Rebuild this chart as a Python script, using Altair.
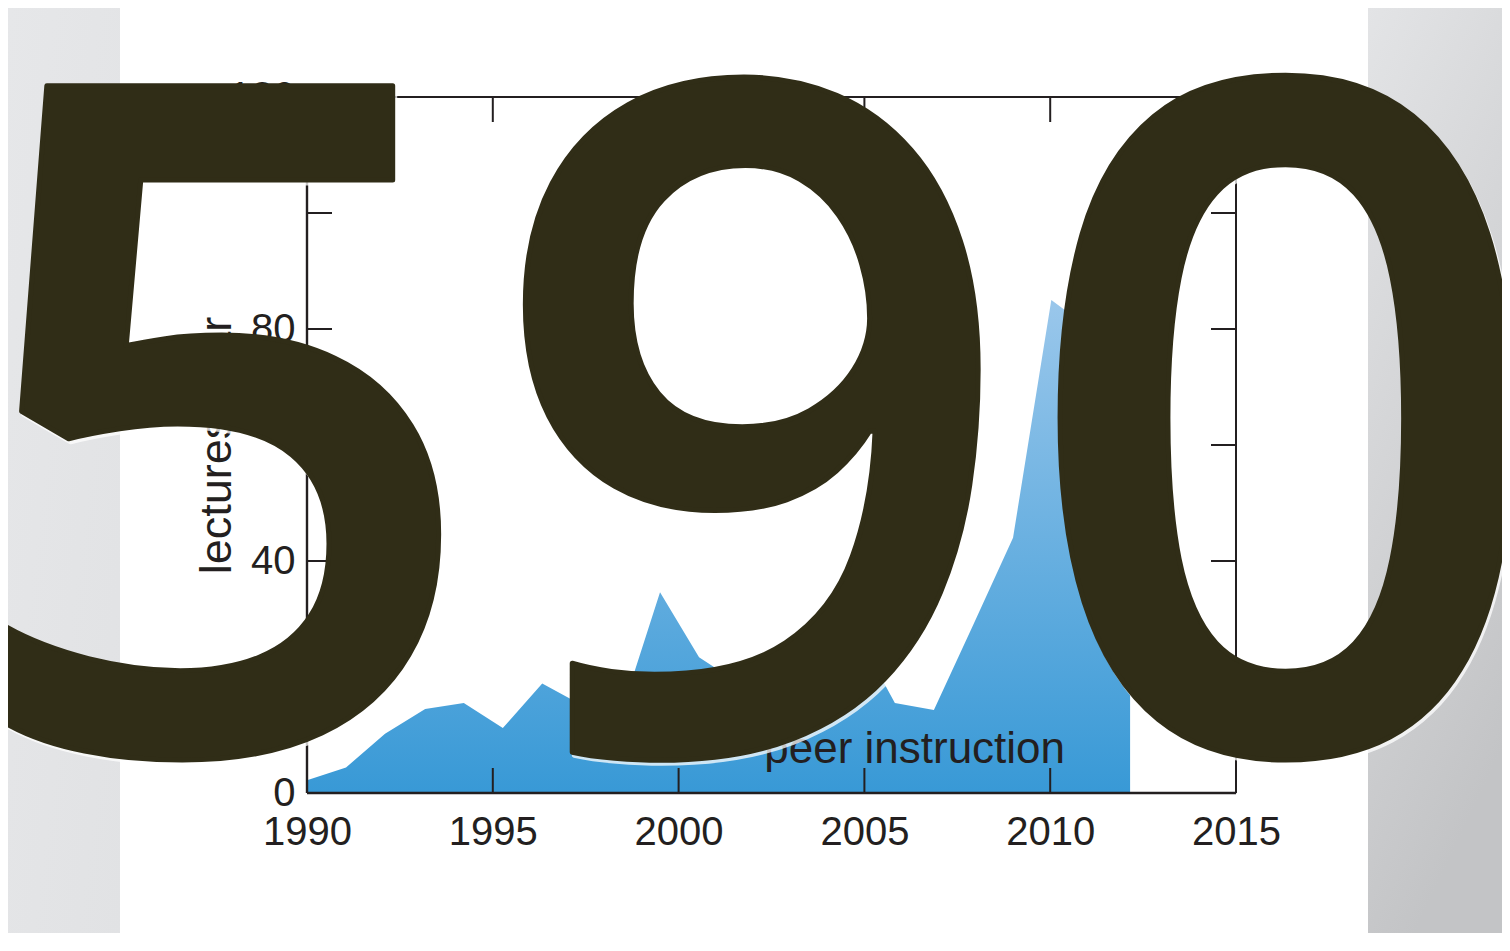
import altair as alt
import pandas as pd

# ---- data ----
years = [1990.0, 1991.05, 1992.1, 1993.18, 1994.22, 1995.27, 1996.33, 1997.38,
         1998.44, 1999.5, 2000.55, 2001.6, 2002.66, 2003.71, 2004.77, 2005.82,
         2006.87, 2007.93, 2009.0, 2010.03, 2011.08, 2012.15]
lectures = [2.2, 4.4, 10.2, 14.5, 15.5, 11.2, 18.9, 15.2,
            13.5, 34.6, 23.4, 19.0, 22.0, 25.0, 27.9, 15.5,
            14.3, 29.0, 44.0, 85.0, 80.0, 62.0]
x_ticks = [1990, 1995, 2000, 2005, 2010, 2015]
y_ticks = [0, 20, 40, 60, 80, 100, 120]
y_labels = [0, 40, 80, 120]
series_label = "peer instruction"
y_title = "lectures/year"
big_number = "590"

df = pd.DataFrame({"year": years, "lectures": lectures})
xt = pd.DataFrame({"year": x_ticks})
yt = pd.DataFrame({"lectures": y_ticks})
one = pd.DataFrame({"k": [0]})

INK = "#231f20"
FONT = "Liberation Sans"
BIG = "#302d17"

x_scale = alt.Scale(domain=[1990, 2015], nice=False, zero=False)
y_scale = alt.Scale(domain=[0, 120], nice=False, zero=False)

left_grad = alt.Gradient(
    gradient="linear", x1=0, y1=0, x2=1, y2=1,
    stops=[alt.GradientStop(color="#e6e7e9", offset=0),
           alt.GradientStop(color="#e1e2e4", offset=1)])
right_grad = alt.Gradient(
    gradient="linear", x1=0, y1=0, x2=0.3, y2=1,
    stops=[alt.GradientStop(color="#e3e4e6", offset=0),
           alt.GradientStop(color="#d3d4d6", offset=0.5),
           alt.GradientStop(color="#c3c4c6", offset=1)])
blue_grad = alt.Gradient(
    gradient="linear", x1=0, y1=0, x2=0, y2=1,
    stops=[alt.GradientStop(color="#9ac7eb", offset=0),
           alt.GradientStop(color="#3899d6", offset=1)])

left_strip = alt.Chart(one).mark_rect(color=left_grad).encode(
    x=alt.value(-299), x2=alt.value(-187), y=alt.value(-89), y2=alt.value(850))
right_strip = alt.Chart(one).mark_rect(color=right_grad).encode(
    x=alt.value(1061), x2=alt.value(1195), y=alt.value(-89), y2=alt.value(850))

area = alt.Chart(df).mark_area(color=blue_grad).encode(
    x=alt.X("year:Q", scale=x_scale,
            axis=alt.Axis(values=x_ticks, format="d", title=None, ticks=False,
                          tickSize=0, grid=False, labelFlush=False,
                          labelPadding=19, labelFontSize=40, labelFont=FONT,
                          labelColor=INK, domain=False, zindex=0)),
    y=alt.Y("lectures:Q", scale=y_scale,
            axis=alt.Axis(values=y_labels, title=y_title, ticks=False,
                          tickSize=0, grid=False, labelPadding=12,
                          labelFontSize=40, labelFont=FONT, labelColor=INK,
                          domain=False,
                          titleFont=FONT, titleFontSize=45,
                          titleFontWeight="normal", titleColor=INK,
                          titleAngle=270, titleAlign="center",
                          titleBaseline="alphabetic", titleX=-77, titleY=348,
                          zindex=0)),
)

label = alt.Chart(one).mark_text(
    text=series_label, align="right", baseline="alphabetic",
    font=FONT, fontSize=44, color=INK).encode(
    x=alt.datum(2010.4), y=alt.datum(5.2))

tick_style = dict(size=25, thickness=2, color=INK, opacity=1)
bottom_ticks = alt.Chart(xt).mark_tick(orient="vertical", yOffset=-12.5, **tick_style).encode(
    x=alt.X("year:Q", scale=x_scale), y=alt.datum(0))
top_ticks = alt.Chart(xt).mark_tick(orient="vertical", yOffset=12.5, **tick_style).encode(
    x=alt.X("year:Q", scale=x_scale), y=alt.datum(120))
left_ticks = alt.Chart(yt).mark_tick(orient="horizontal", xOffset=12.5, **tick_style).encode(
    y=alt.Y("lectures:Q", scale=y_scale), x=alt.datum(1990))
right_ticks = alt.Chart(yt).mark_tick(orient="horizontal", xOffset=-12.5, **tick_style).encode(
    y=alt.Y("lectures:Q", scale=y_scale), x=alt.datum(2015))

top_rule = alt.Chart(one).mark_rule(color=INK, strokeWidth=2).encode(
    x=alt.datum(1990), x2=alt.datum(2015), y=alt.datum(120))
bottom_rule = alt.Chart(one).mark_rule(color=INK, strokeWidth=2.6).encode(
    x=alt.datum(1990), x2=alt.datum(2015), y=alt.datum(0))
left_rule = alt.Chart(one).mark_rule(color=INK, strokeWidth=2.4).encode(
    x=alt.datum(1990), y=alt.datum(0), y2=alt.datum(120))
right_rule = alt.Chart(one).mark_rule(color=INK, strokeWidth=2).encode(
    x=alt.datum(2015), y=alt.datum(0), y2=alt.datum(120))

big_style = dict(text=big_number, font="Open Sans", fontWeight=600,
                 fontSize=932, align="left", baseline="alphabetic",
                 strokeWidth=5, strokeJoin="round")
big_glow = alt.Chart(one).mark_text(color="#ffffff", stroke="#ffffff",
                                    opacity=0.75, **big_style).encode(
    x=alt.value(-351), y=alt.value(657))
big = alt.Chart(one).mark_text(color=BIG, stroke=BIG, **big_style).encode(
    x=alt.value(-353), y=alt.value(654))

chart = alt.layer(
    left_strip, right_strip, area, label, bottom_ticks, top_ticks, left_ticks,
    right_ticks, top_rule, bottom_rule, left_rule, right_rule, big_glow, big
).properties(
    width=929, height=696,
    padding={"left": 299, "top": 89, "right": 266, "bottom": 140},
    autosize=alt.AutoSizeParams(type="none"),
).configure_view(stroke=None).configure(background="white")

chart.save("out.html", embed_options={"renderer": "svg", "actions": False})
